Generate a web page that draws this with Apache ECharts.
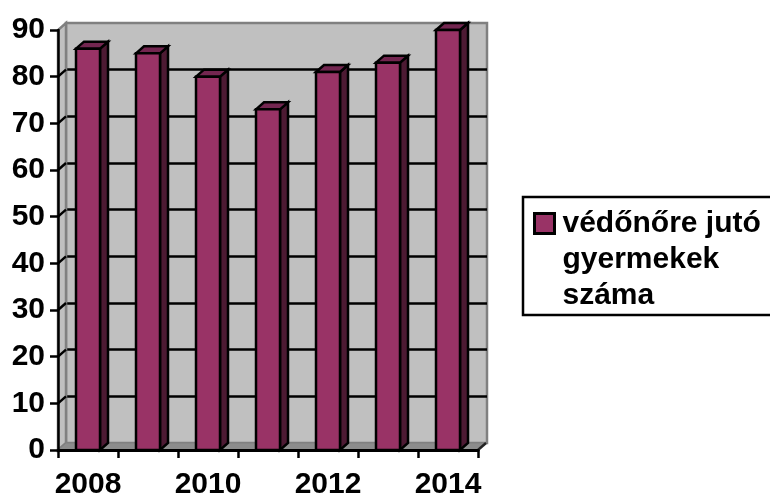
<!DOCTYPE html>
<html><head><meta charset="utf-8">
<style>html,body{margin:0;padding:0;background:#fff;overflow:hidden}#c{width:770px;height:496px}</style>
<script src="https://cdn.jsdelivr.net/npm/echarts@6/dist/echarts.min.js"></script>
</head><body><div id="c"></div>
<script>
const categories = ['2008','2009','2010','2011','2012','2013','2014'];
const values = [86,85,80,73,81,83,90];
const seriesName = 'védőnőre jutó\ngyermekek\nszáma';
const wallTicks = [10,20,30,40,50,60,70,80];
const FONT = '"Liberation Sans", Arial, sans-serif';
const DX = 8, DY = -7, FRONT_W = 24;
const chart = echarts.init(document.getElementById('c'), null, {renderer:'canvas'});
const poly = (points, fill, stroke, lw) => ({type:'polygon', shape:{points}, style:{fill, stroke, lineWidth:lw, lineJoin:'miter'}});
chart.setOption({
  animation:false,
  backgroundColor:'#fff',
  grid:[
    {left:58, top:30, width:420, height:420, outerBoundsMode:'none'},
    {left:66, top:23, width:421, height:420, outerBoundsMode:'none', show:true, backgroundColor:'#c0c0c0', borderColor:'#808080', borderWidth:2.5}
  ],
  xAxis:[
    {type:'category', gridIndex:0, data:categories, z:5,
     axisLine:{show:true, lineStyle:{color:'#000', width:3}},
     axisTick:{show:true, alignWithLabel:false, interval:0, length:8, lineStyle:{color:'#000', width:2.5}},
     axisLabel:{interval:1, color:'#000', fontFamily:FONT, fontWeight:'bold', fontSize:30, margin:20, hideOverlap:false},
     splitLine:{show:false}},
    {type:'category', gridIndex:1, data:categories, show:false, splitLine:{show:false}}
  ],
  yAxis:[
    {type:'value', gridIndex:0, min:0, max:90, interval:10, z:5,
     axisLine:{show:true, lineStyle:{color:'#000', width:2.5}},
     axisTick:{show:true, length:8, lineStyle:{color:'#000', width:2.5}},
     axisLabel:{color:'#000', fontFamily:FONT, fontWeight:'bold', fontSize:30, margin:13},
     splitLine:{show:false}},
    {type:'value', gridIndex:1, min:0, max:90, interval:10,
     axisLine:{show:false}, axisTick:{show:false}, axisLabel:{show:false},
     splitLine:{show:true, showMinLine:false, showMaxLine:false, lineStyle:{color:'#000', width:2.5}}}
  ],
  legend:{
    show:true, left:523, top:197, orient:'vertical',
    padding:[8,16,0,10], backgroundColor:'#fff', borderColor:'#000', borderWidth:2.5, borderRadius:0,
    itemWidth:23, itemHeight:107, selectedMode:false,
    icon:'path://M0 0L0 0M0 7H20V27H0ZM23 107L23 107',
    itemStyle:{color:'#993366', borderColor:'#000', borderWidth:3},
    textStyle:{color:'#000', fontFamily:FONT, fontWeight:'bold', fontSize:30, lineHeight:36},
    data:[seriesName]
  },
  series:[
    {type:'custom', name:'walls', silent:true, xAxisIndex:0, yAxisIndex:0, z:1, clip:false,
     data:[[0]],
     renderItem(p, api){
       const o = api.coord([0,0]), t = api.coord([0,90]);
       const w = api.size([1,0])[0];
       const x0 = o[0]-w/2, x1 = x0+w*categories.length, y0 = o[1], y1 = t[1];
       return {type:'group', children:[
         poly([[x0,y0],[x0+DX,y0+DY],[x0+DX,y1+DY],[x0,y1]], '#c0c0c0', '#808080', 2.5),
         poly([[x0,y0],[x1,y0],[x1+DX,y0+DY],[x0+DX,y0+DY]], '#8c8c8c', '#808080', 1),
         {type:'line', shape:{x1:x1,y1:y0,x2:x1+DX,y2:y0+DY}, style:{stroke:'#222', lineWidth:2.5}}
       ]};
     }},
    {type:'custom', name:'wallTicks', silent:true, xAxisIndex:0, yAxisIndex:0, z:2, clip:false,
     data:wallTicks.map(v=>[0,v]),
     renderItem(p, api){
       const c = api.coord([0,api.value(1)]);
       const x0 = c[0]-api.size([1,0])[0]/2;
       return {type:'line', shape:{x1:x0,y1:c[1],x2:x0+DX,y2:c[1]+DY}, style:{stroke:'#000', lineWidth:2.5}};
     }},
    {type:'custom', name:seriesName, xAxisIndex:0, yAxisIndex:0, z:3, clip:false,
     itemStyle:{color:'#993366'},
     data:values.map((v,i)=>[i,v]),
     renderItem(p, api){
       const top = api.coord([api.value(0),api.value(1)]);
       const bot = api.coord([api.value(0),0]);
       const l = top[0]-FRONT_W/2, r = top[0]+FRONT_W/2, a = top[1], b = bot[1];
       return {type:'group', children:[
         poly([[r,a],[r+DX,a+DY],[r+DX,b+DY],[r,b]], '#4d1a33', '#000', 2.5),
         poly([[l,a],[l+DX,a+DY],[r+DX,a+DY],[r,a]], '#732650', '#000', 2.5),
         poly([[l,a],[r,a],[r,b],[l,b]], '#993366', '#000', 2.5)
       ]};
     }}
  ]
});
</script></body></html>
